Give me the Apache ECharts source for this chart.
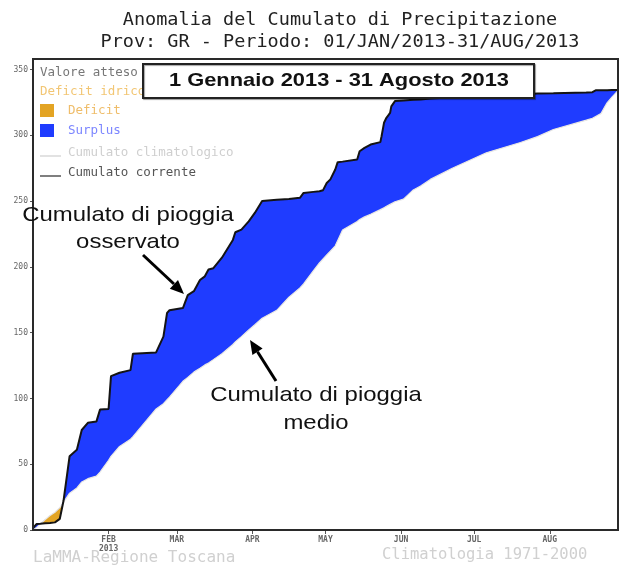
<!DOCTYPE html>
<html>
<head>
<meta charset="utf-8">
<script src="https://cdn.jsdelivr.net/npm/echarts@6/dist/echarts.min.js"></script>
<style>
  html, body { margin: 0; padding: 0; background: #fff; }
  #chart { width: 622px; height: 567px; }
</style>
</head>
<body>
<div id="chart"></div>
<script>
// giorni dal 1 gennaio 2013
const days = [0, 1.5, 3, 5, 7, 9, 11, 12.5, 15, 18, 20, 22.5, 26, 27.5, 31, 32, 35.5, 40, 41, 50.5,
  53.5, 55, 56, 61.5, 63.5, 66, 68.5, 70.5, 72, 74, 77.5, 82, 83, 85.5, 88.5, 91, 94, 100, 105, 109.5,
  111, 115, 117.5, 119, 120.5, 122, 124, 125, 127, 133, 134, 136, 138.5, 142.5, 143, 144, 145, 146.5, 147, 148.5,
  152, 156, 159, 163, 172, 186, 200, 207, 213.5, 227, 229.5, 231, 233, 235.5, 237.5, 240];

// cumulato corrente (mm)
const observed = [1.5, 4.6, 4.8, 5.1, 5.4, 5.8, 8.5, 22, 56, 61, 76, 81.5, 82.4, 91.5, 92, 117, 119.5, 121.5, 134, 135,
  147, 165, 167, 168.7, 178.5, 181.5, 190, 192.8, 198, 199, 207, 220.5, 226.3, 228.3, 234.6, 241, 250, 251, 251.5, 252.5,
  256.2, 257, 257.5, 258.3, 263.8, 266.5, 274, 279.6, 280, 281.6, 287.9, 290.4, 293, 294.8, 299.3, 309.5, 313.3, 317, 322, 326,
  326.5, 327, 327.2, 328, 329, 330, 331, 331.8, 332, 332.5, 332.8, 334.3, 334.3, 334.3, 334.4, 334.5];

// cumulato climatologico 1971-2000 (mm)
const climatology = [0, 2, 4.5, 8, 11, 13.5, 17, 21, 28, 32, 36.5, 39, 41, 44, 53, 56, 63.5, 69, 71, 92,
  96, 99, 101, 113, 116, 120, 123, 125.5, 127, 129.5, 134, 141, 143, 147, 152, 156, 161, 167, 177, 184,
  187, 197, 203, 206, 209, 212, 216, 220, 228, 234.5, 236, 238, 240, 243.5, 244, 245, 246, 247.5, 248, 249.5,
  251.5, 258.5, 261.5, 266.5, 275, 286.7, 294.5, 299, 304.4, 311.5, 313, 314.5, 316.5, 324.7, 329, 334];

const monthTicks = [31, 59, 90, 120, 151, 181, 212];
const monthLabels = ['FEB\n2013', 'MAR', 'APR', 'MAY', 'JUN', 'JUL', 'AUG'];

const pair = (arr) => days.map((d, i) => [d, arr[i]]);
const upper = days.map((d, i) => [d, Math.max(observed[i], climatology[i])]);
const lower = days.map((d, i) => [d, Math.min(observed[i], climatology[i])]);

const mono = 'DejaVu Sans Mono';
const arial = 'Liberation Sans';

const chart = echarts.init(document.getElementById('chart'));

const option = {
  animation: false,
  grid: { left: 33, right: 4, top: 59, bottom: 37 },
  xAxis: {
    type: 'value',
    min: 0, max: 240,
    axisLine: { show: false },
    axisTick: { show: true, customValues: monthTicks, length: 4, lineStyle: { color: '#555' } },
    axisLabel: {
      customValues: monthTicks,
      formatter: (v) => monthLabels[monthTicks.indexOf(v)] || '',
      fontFamily: mono, fontSize: 8, fontWeight: 'bold', lineHeight: 9, color: '#666', margin: 5
    },
    splitLine: { show: false }
  },
  yAxis: {
    type: 'value',
    min: 0, max: 358, interval: 50,
    axisLine: { show: false },
    axisTick: { show: true, length: 3, lineStyle: { color: '#555' } },
    axisLabel: {
      formatter: (v) => (v % 50 === 0 ? v : ''),
      showMaxLabel: false,
      fontFamily: mono, fontSize: 8, color: '#666', margin: 5
    },
    splitLine: { show: false }
  },
  series: [
    {
      name: 'Surplus', type: 'line', data: upper, symbol: 'none', z: 1,
      lineStyle: { width: 0, opacity: 0 }, areaStyle: { color: '#1f3cff', opacity: 1 }
    },
    {
      name: 'Deficit', type: 'line', data: pair(climatology), symbol: 'none', z: 2,
      lineStyle: { width: 0, opacity: 0 }, areaStyle: { color: '#e3a424', opacity: 1 }
    },
    {
      type: 'line', data: lower, symbol: 'none', z: 3, silent: true,
      lineStyle: { width: 0, opacity: 0 }, areaStyle: { color: '#fff', opacity: 1 }
    },
    {
      name: 'Cumulato climatologico', type: 'line', data: pair(climatology), symbol: 'none', z: 4,
      lineStyle: { color: '#e6e6e6', width: 1.2 }
    },
    {
      name: 'Cumulato corrente', type: 'line', data: pair(observed), symbol: 'none', z: 5,
      lineStyle: { color: '#141414', width: 2 }
    }
  ],
  graphic: [
    // cornice
    { type: 'rect', z: 50, shape: { x: 33, y: 59, width: 585, height: 471 }, style: { fill: 'none', stroke: '#2a2a2a', lineWidth: 2 } },
    // titolo
    { type: 'text', x: 340, y: 31, style: {
        text: 'Anomalia del Cumulato di Precipitazione\nProv: GR - Periodo: 01/JAN/2013-31/AUG/2013',
        align: 'center', verticalAlign: 'middle', font: '18.5px ' + mono, lineHeight: 22, fill: '#222' } },
    // legenda
    { type: 'text', x: 40, y: 73, style: { text: 'Valore atteso (mm):  334', font: '12.5px ' + mono, fill: '#777', verticalAlign: 'middle' } },
    { type: 'text', x: 40, y: 92, style: { text: 'Deficit idrico (mm):  0', font: '12.5px ' + mono, fill: '#f2c674', verticalAlign: 'middle' } },
    { type: 'rect', shape: { x: 40, y: 104, width: 14, height: 13 }, style: { fill: '#e3a424' } },
    { type: 'text', x: 68, y: 111, style: { text: 'Deficit', font: '12.5px ' + mono, fill: '#efbd6a', verticalAlign: 'middle' } },
    { type: 'rect', shape: { x: 40, y: 124, width: 14, height: 13 }, style: { fill: '#1f3cff' } },
    { type: 'text', x: 68, y: 131, style: { text: 'Surplus', font: '12.5px ' + mono, fill: '#7c86ff', verticalAlign: 'middle' } },
    { type: 'line', shape: { x1: 40, y1: 156, x2: 61, y2: 156 }, style: { stroke: '#d8d8d8', lineWidth: 1.5 } },
    { type: 'text', x: 68, y: 153, style: { text: 'Cumulato climatologico', font: '12.5px ' + mono, fill: '#cfcfcf', verticalAlign: 'middle' } },
    { type: 'line', shape: { x1: 40, y1: 176, x2: 61, y2: 176 }, style: { stroke: '#555', lineWidth: 1.5 } },
    { type: 'text', x: 68, y: 173, style: { text: 'Cumulato corrente', font: '12.5px ' + mono, fill: '#555', verticalAlign: 'middle' } },
    // riquadro periodo
    { type: 'rect', z: 60, shape: { x: 143, y: 64, width: 391, height: 34 },
      style: { fill: '#fff', stroke: '#222', lineWidth: 2, shadowColor: 'rgba(0,0,0,0.35)', shadowOffsetX: 1, shadowOffsetY: 1, shadowBlur: 1 } },
    { type: 'text', z: 61, x: 339, y: 81, scaleX: 1.15, style: { text: '1 Gennaio 2013 - 31 Agosto 2013', font: 'bold 19px ' + arial, fill: '#111', align: 'center', verticalAlign: 'middle' } },
    // annotazioni
    { type: 'text', z: 60, x: 128, y: 229, scaleX: 1.14, style: { text: 'Cumulato di pioggia\nosservato', font: '21px ' + arial, lineHeight: 27, fill: '#111', align: 'center', verticalAlign: 'middle' } },
    { type: 'line', z: 60, shape: { x1: 143, y1: 255, x2: 174, y2: 284 }, style: { stroke: '#000', lineWidth: 3 } },
    { type: 'polygon', z: 60, shape: { points: [[184, 294], [169.8, 288.7], [178, 280.1]] }, style: { fill: '#000' } },
    { type: 'text', z: 60, x: 316, y: 409, scaleX: 1.14, style: { text: 'Cumulato di pioggia\nmedio', font: '21px ' + arial, lineHeight: 28, fill: '#111', align: 'center', verticalAlign: 'middle' } },
    { type: 'line', z: 60, shape: { x1: 276, y1: 381, x2: 257.5, y2: 351.8 }, style: { stroke: '#000', lineWidth: 3 } },
    { type: 'polygon', z: 60, shape: { points: [[250, 340], [262.6, 348.6], [252.4, 355]] }, style: { fill: '#000' } },
    // piede
    { type: 'text', x: 33, y: 558, style: { text: 'LaMMA-Regione Toscana', font: '16px ' + mono, fill: '#d0d0d0', verticalAlign: 'middle' } },
    { type: 'text', x: 382, y: 555, style: { text: 'Climatologia 1971-2000', font: '15.5px ' + mono, fill: '#d0d0d0', verticalAlign: 'middle' } }
  ]
};

chart.setOption(option);
</script>
</body>
</html>
